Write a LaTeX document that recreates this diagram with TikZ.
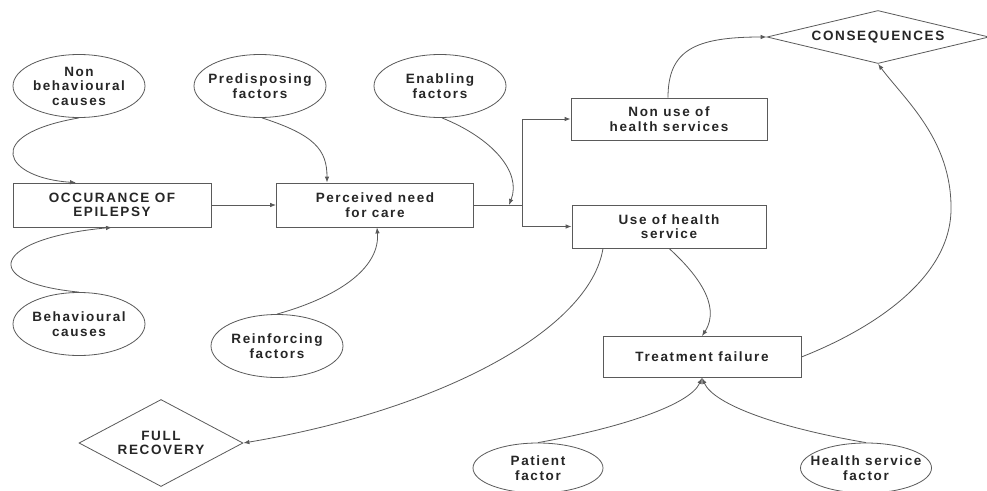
\documentclass[tikz,border=0pt]{standalone}
\usepackage{fontspec}
\setmainfont{Liberation Sans}[LetterSpace=12]
\usetikzlibrary{shapes.geometric,arrows.meta}
\definecolor{linec}{HTML}{5A5A5A}
\definecolor{textc}{HTML}{262626}
\tikzset{
  lbl/.style={text=textc, font=\bfseries\fontsize{13.5}{14.5}\selectfont, align=center, inner sep=0pt},
  oval/.style={lbl, ellipse, draw=linec, line width=0.8pt, inner sep=-12pt, minimum width=132pt, minimum height=63pt},
  rectbox/.style={lbl, rectangle, draw=linec, line width=0.8pt, minimum width=197pt, minimum height=44pt},
  decision/.style={lbl, diamond, draw=linec, line width=0.8pt},
  conn/.style={draw=linec, line width=0.8pt},
  arr/.style={conn, -{Latex[length=6pt,width=4.5pt]}}
}
\begin{document}
\begin{tikzpicture}[x=1pt,y=-1pt]
\useasboundingbox[fill=white] (0,0) rectangle (987,490);

% ovals: contributing factors
\node[oval] (nb)  at (79,86)   {Non\\behavioural\\causes};
\node[oval] (pre) at (260,86)  {Predisposing\\factors};
\node[oval] (en)  at (440,86)  {Enabling\\factors};
\node[oval] (bc)  at (79,324)  {Behavioural\\causes};
\node[oval] (rf)  at (277,346) {Reinforcing\\factors};
\node[oval, minimum width=130pt, minimum height=50pt] (pf) at (538,468) {Patient\\factor};
\node[oval, minimum width=131pt, minimum height=50pt] (hs) at (866,468) {Health service\\factor};

% process boxes
\node[rectbox, minimum width=198pt] (occ) at (112,205) {OCCURANCE OF\\EPILEPSY};
\node[rectbox] (pn)  at (375,205) {Perceived need\\for care};
\node[rectbox, minimum width=196pt, minimum height=42pt] (nu) at (669,119) {Non use of\\health services};
\node[rectbox, minimum width=194pt, minimum height=43pt] (us) at (669,226.5) {Use of health\\service};
\node[rectbox, minimum width=198pt, minimum height=41pt] (tf) at (702,357) {Treatment failure};

% outcomes
\node[decision, shape aspect=4.19, minimum width=222pt, minimum height=53pt] (cons) at (878,37) {CONSEQUENCES};
\node[decision, shape aspect=1.885, minimum width=164pt, minimum height=87pt] (fr) at (161,443) {FULL\\RECOVERY};

% junction after perceived need
\coordinate (j)  at (522,205);
\coordinate (jt) at (522,119);
\coordinate (jb) at (522,226.5);
\coordinate (je) at (509,205);

% causes into occurrence
\draw[arr] (nb.south) .. controls (-20,135) and (5,178) .. ([xshift=-36pt]occ.north);
\draw[arr] (bc.north) .. controls (-25,282) and (-5,238) .. (occ.south);
\draw[arr] (occ.east) -- (pn.west);

% factors into perceived need
\draw[arr] ([xshift=2pt]pre.south) .. controls (315,135) and (327,150) .. ([xshift=-48pt]pn.north);
\draw[arr] (rf.north) .. controls (345,295) and (380,265) .. ([xshift=2pt]pn.south);

% split into use / non use
\draw[conn] (pn.east) -- (j);
\draw[conn] (jt) -- (jb);
\draw[arr] (jt) -- (nu.west);
\draw[arr] (jb) -- (us.west);
\draw[arr] ([xshift=2pt]en.south) .. controls (492,138) and (522,172) .. (je);

% outcomes of service use
\draw[arr] ([xshift=-1pt]nu.north) .. controls (668,50) and (695,37) .. (cons.west);
\draw[arr] (us.south) .. controls (695,272) and (722,305) .. (tf.north);
\draw[arr] ([xshift=-66pt]us.south) .. controls (590,330) and (440,410) .. (fr.east);
\coordinate (loop) at (951,210);
\draw[arr] (tf.east) .. controls (870,330) and (950,280) .. (loop)
  .. controls (952,140) and (905,100) .. (cons.south);

% factors into treatment failure
\draw[arr] (pf.north) .. controls (620,428) and (690,405) .. (tf.south);
\draw[arr] (hs.north) .. controls (780,428) and (714,405) .. (tf.south);
\end{tikzpicture}
\end{document}
